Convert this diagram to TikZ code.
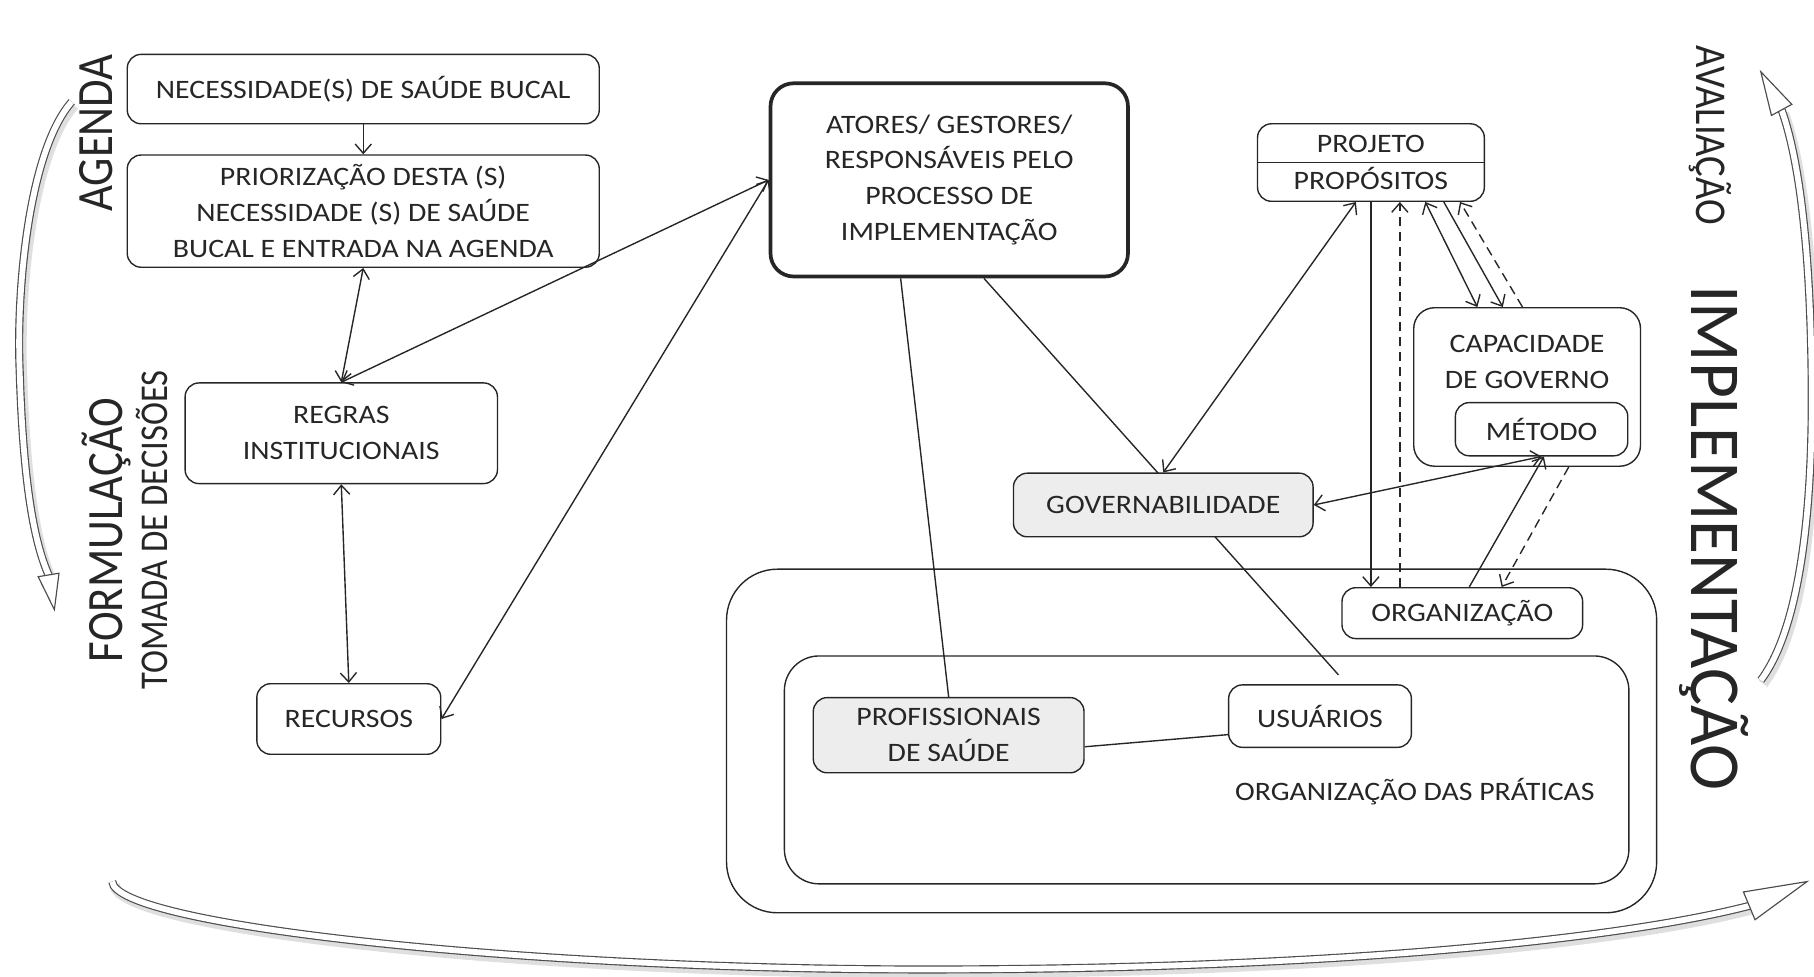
\documentclass[tikz,border=0pt]{standalone}
\usepackage{fontspec}
\setmainfont{Carlito}[FakeStretch=1.12]
\newfontfamily\rotfont{Carlito}[FakeStretch=0.88]
\newfontfamily\bigfont{Carlito}[FakeStretch=0.97]
\usetikzlibrary{arrows.meta,calc,backgrounds}
\tikzset{
  box/.style={draw=black!85, line width=0.6pt, rounded corners=6pt, align=center, inner sep=0pt,
    font=\fontsize{11.5}{15.5}\selectfont, text=black!85},
  grayfill/.style={fill=black!7},
  conn/.style={line width=0.6pt, draw=black!85},
  arr/.style={conn, -{Straight Barb[length=4pt,width=7pt]}},
  darr/.style={conn, {Straight Barb[length=4pt,width=7pt]}-{Straight Barb[length=4pt,width=7pt]}},
  dashedconn/.style={dash pattern=on 4pt off 2.5pt},
  flow/.style={draw=black!70, line width=0.5pt, double=white, double distance=2.5pt},
  flowshadow/.style={draw=black!25, line width=4.5pt, opacity=0.5},
  flowhead/.style={draw=black!70, fill=white, line width=0.5pt, line join=miter},
  rotlabel/.style={text=black!85, inner sep=0pt}
}
\begin{document}
\begin{tikzpicture}[x=0.5pt,y=-0.5pt]
\useasboundingbox (0,0) rectangle (1568,844);

% ---------- curved process arrows ----------
% left
\draw[flowshadow, shift={(2,3)}] (62,88) .. controls (25,130) and (14,250) .. (17,320) .. controls (20,420) and (30,470) .. (42,497);
\draw[flow] (62,88) .. controls (25,130) and (14,250) .. (17,320) .. controls (20,420) and (30,470) .. (42,497);
\draw[flowhead] (47,527) -- (51,495.5) -- (33,498.5) -- cycle;
% right
\draw[flowshadow, shift={(2,3)}] (1522,588) .. controls (1558,540) and (1567,430) .. (1566,330) .. controls (1565,220) and (1556,140) .. (1540,95);
\draw[flow] (1522,588) .. controls (1558,540) and (1567,430) .. (1566,330) .. controls (1565,220) and (1556,140) .. (1540,95);
\draw[flowhead] (1522,62) -- (1548.8,90.2) -- (1531.2,99.8) -- cycle;
% bottom
\draw[flowshadow, shift={(2,3)}] (97,762) .. controls (100,800) and (450,838) .. (800,838) .. controls (1150,838) and (1400,812) .. (1512,783);
\draw[flow] (97,762) .. controls (100,800) and (450,838) .. (800,838) .. controls (1150,838) and (1400,812) .. (1512,783);
\draw[flowhead] (1562,762) -- (1517,795) -- (1507,771) -- cycle;

% ---------- side labels ----------
\node[rotlabel, rotate=90, font=\rotfont\fontsize{22}{26}\selectfont] (agenda) at (83,115) {AGENDA};
\node[rotlabel, rotate=90, font=\rotfont\fontsize{22}{26}\selectfont] (formulacao) at (92,458) {FORMULAÇÃO};
\node[rotlabel, rotate=90, font=\rotfont\fontsize{17}{20}\selectfont] (tomada) at (131,458) {TOMADA DE DECISÕES};
\node[rotlabel, rotate=-90, font=\rotfont\fontsize{19}{22}\selectfont] (avaliacao) at (1478,117) {AVALIAÇÃO};
\node[rotlabel, rotate=-90, font=\bigfont\fontsize{31}{35}\selectfont] (implementacao) at (1482,465) {IMPLEMENTAÇÃO};

% ---------- containers ----------
\node[draw=black!85, line width=0.6pt, rounded corners=22pt, minimum width=402pt, minimum height=148.5pt, inner sep=0pt] (orgbox) at (1030,640.5) {};
\node[draw=black!85, line width=0.6pt, rounded corners=15pt, minimum width=365pt, minimum height=98.5pt, inner sep=0pt] (praticas) at (1043,665.5) {};
\node[text=black!85, font=\fontsize{11.5}{15.5}\selectfont, inner sep=0pt] (praticaslabel) at (1223,684) {ORGANIZAÇÃO DAS PRÁTICAS};

% ---------- boxes ----------
\node[box, minimum width=204pt, minimum height=30pt] (nec) at (314,77) {NECESSIDADE(S) DE SAÚDE BUCAL};
\node[box, minimum width=204pt, minimum height=48.5pt] (prior) at (314,182.5) {PRIORIZAÇÃO DESTA (S)\\NECESSIDADE (S) DE SAÚDE\\BUCAL E ENTRADA NA  AGENDA};
\node[box, minimum width=135pt, minimum height=43.5pt] (regras) at (295,374.5) {REGRAS\\INSTITUCIONAIS};
\node[box, minimum width=79.5pt, minimum height=30.5pt] (recursos) at (301.5,621.5) {RECURSOS};
\node[box, line width=1.6pt, rounded corners=10pt, minimum width=154.5pt, minimum height=83.5pt] (atores) at (820.5,155.5) {ATORES/ GESTORES/\\RESPONSÁVEIS PELO\\PROCESSO DE\\IMPLEMENTAÇÃO};
\node[box, minimum width=98pt, minimum height=33.5pt, font=\fontsize{11.5}{16}\selectfont] (projeto) at (1185,140.5) {PROJETO\\PROPÓSITOS};
\draw[conn] (projeto.west) -- (projeto.east);
\node[box, rounded corners=9pt, minimum width=98pt, minimum height=68.5pt] (cap) at (1320,334.5) {};
\node[text=black!85, align=center, inner sep=0pt, font=\fontsize{11.5}{15.5}\selectfont] (captext) at (1320,312.5) {CAPACIDADE\\DE GOVERNO};
\node[box, minimum width=74.5pt, minimum height=23pt] (metodo) at (1332.5,371) {MÉTODO};
\node[box, minimum width=104pt, minimum height=22pt] (org) at (1264,530) {ORGANIZAÇÃO};
\node[box, grayfill, minimum width=117pt, minimum height=32.5pt] (prof) at (820,635.5) {PROFISSIONAIS\\DE SAÚDE};
\node[box, minimum width=79pt, minimum height=27pt] (usu) at (1141,619) {USUÁRIOS};

% line passing behind GOVERNABILIDADE
\begin{pgfonlayer}{background}
\draw[conn] ($(atores.south)+(30,0)$) -- ($(usu.north)+(16,-8)$);
\end{pgfonlayer}
\node[box, grayfill, minimum width=129.5pt, minimum height=27.5pt] (gov) at (1005.5,436.5) {GOVERNABILIDADE};

% ---------- connectors ----------
\draw[arr] (nec.south) -- (prior.north);
\draw[darr] (prior.south) -- (regras.north);
\draw[darr] (atores.west) -- (regras.north);
\draw[darr] (regras.south) -- (recursos.north);
\draw[darr] (atores.west) -- (recursos.east);
\draw[conn] ($(atores.south)+(-42,0)$) -- (prof.north);
\draw[conn] ($(prof.east)+(0,10)$) -- ($(usu.west)+(0,16)$);
\draw[darr] ($(projeto.south)+(-13,0)$) -- (gov.north);
\draw[arr] (projeto.south) -- (projeto.south |- org.north);
\draw[arr, dashedconn] ($(org.north)+(-54,0)$) -- ($(projeto.south)+(25,0)$);
\draw[darr] ($(projeto.south)+(47,0)$) -- ($(cap.north)+(-43,0)$);
\draw[arr] ($(projeto.south)+(63,0)$) -- ($(cap.north)+(-21,0)$);
\draw[arr, dashedconn] ($(cap.north)+(-4,0)$) -- ($(projeto.south)+(77,0)$);
\draw[darr] (gov.east) -- (metodo.south);
\draw[arr] ($(org.north)+(6,0)$) -- ($(metodo.south)+(2,0)$);
\draw[arr, dashedconn] ($(cap.south)+(36,0)$) -- ($(org.north)+(34,0)$);
\end{tikzpicture}
\end{document}
